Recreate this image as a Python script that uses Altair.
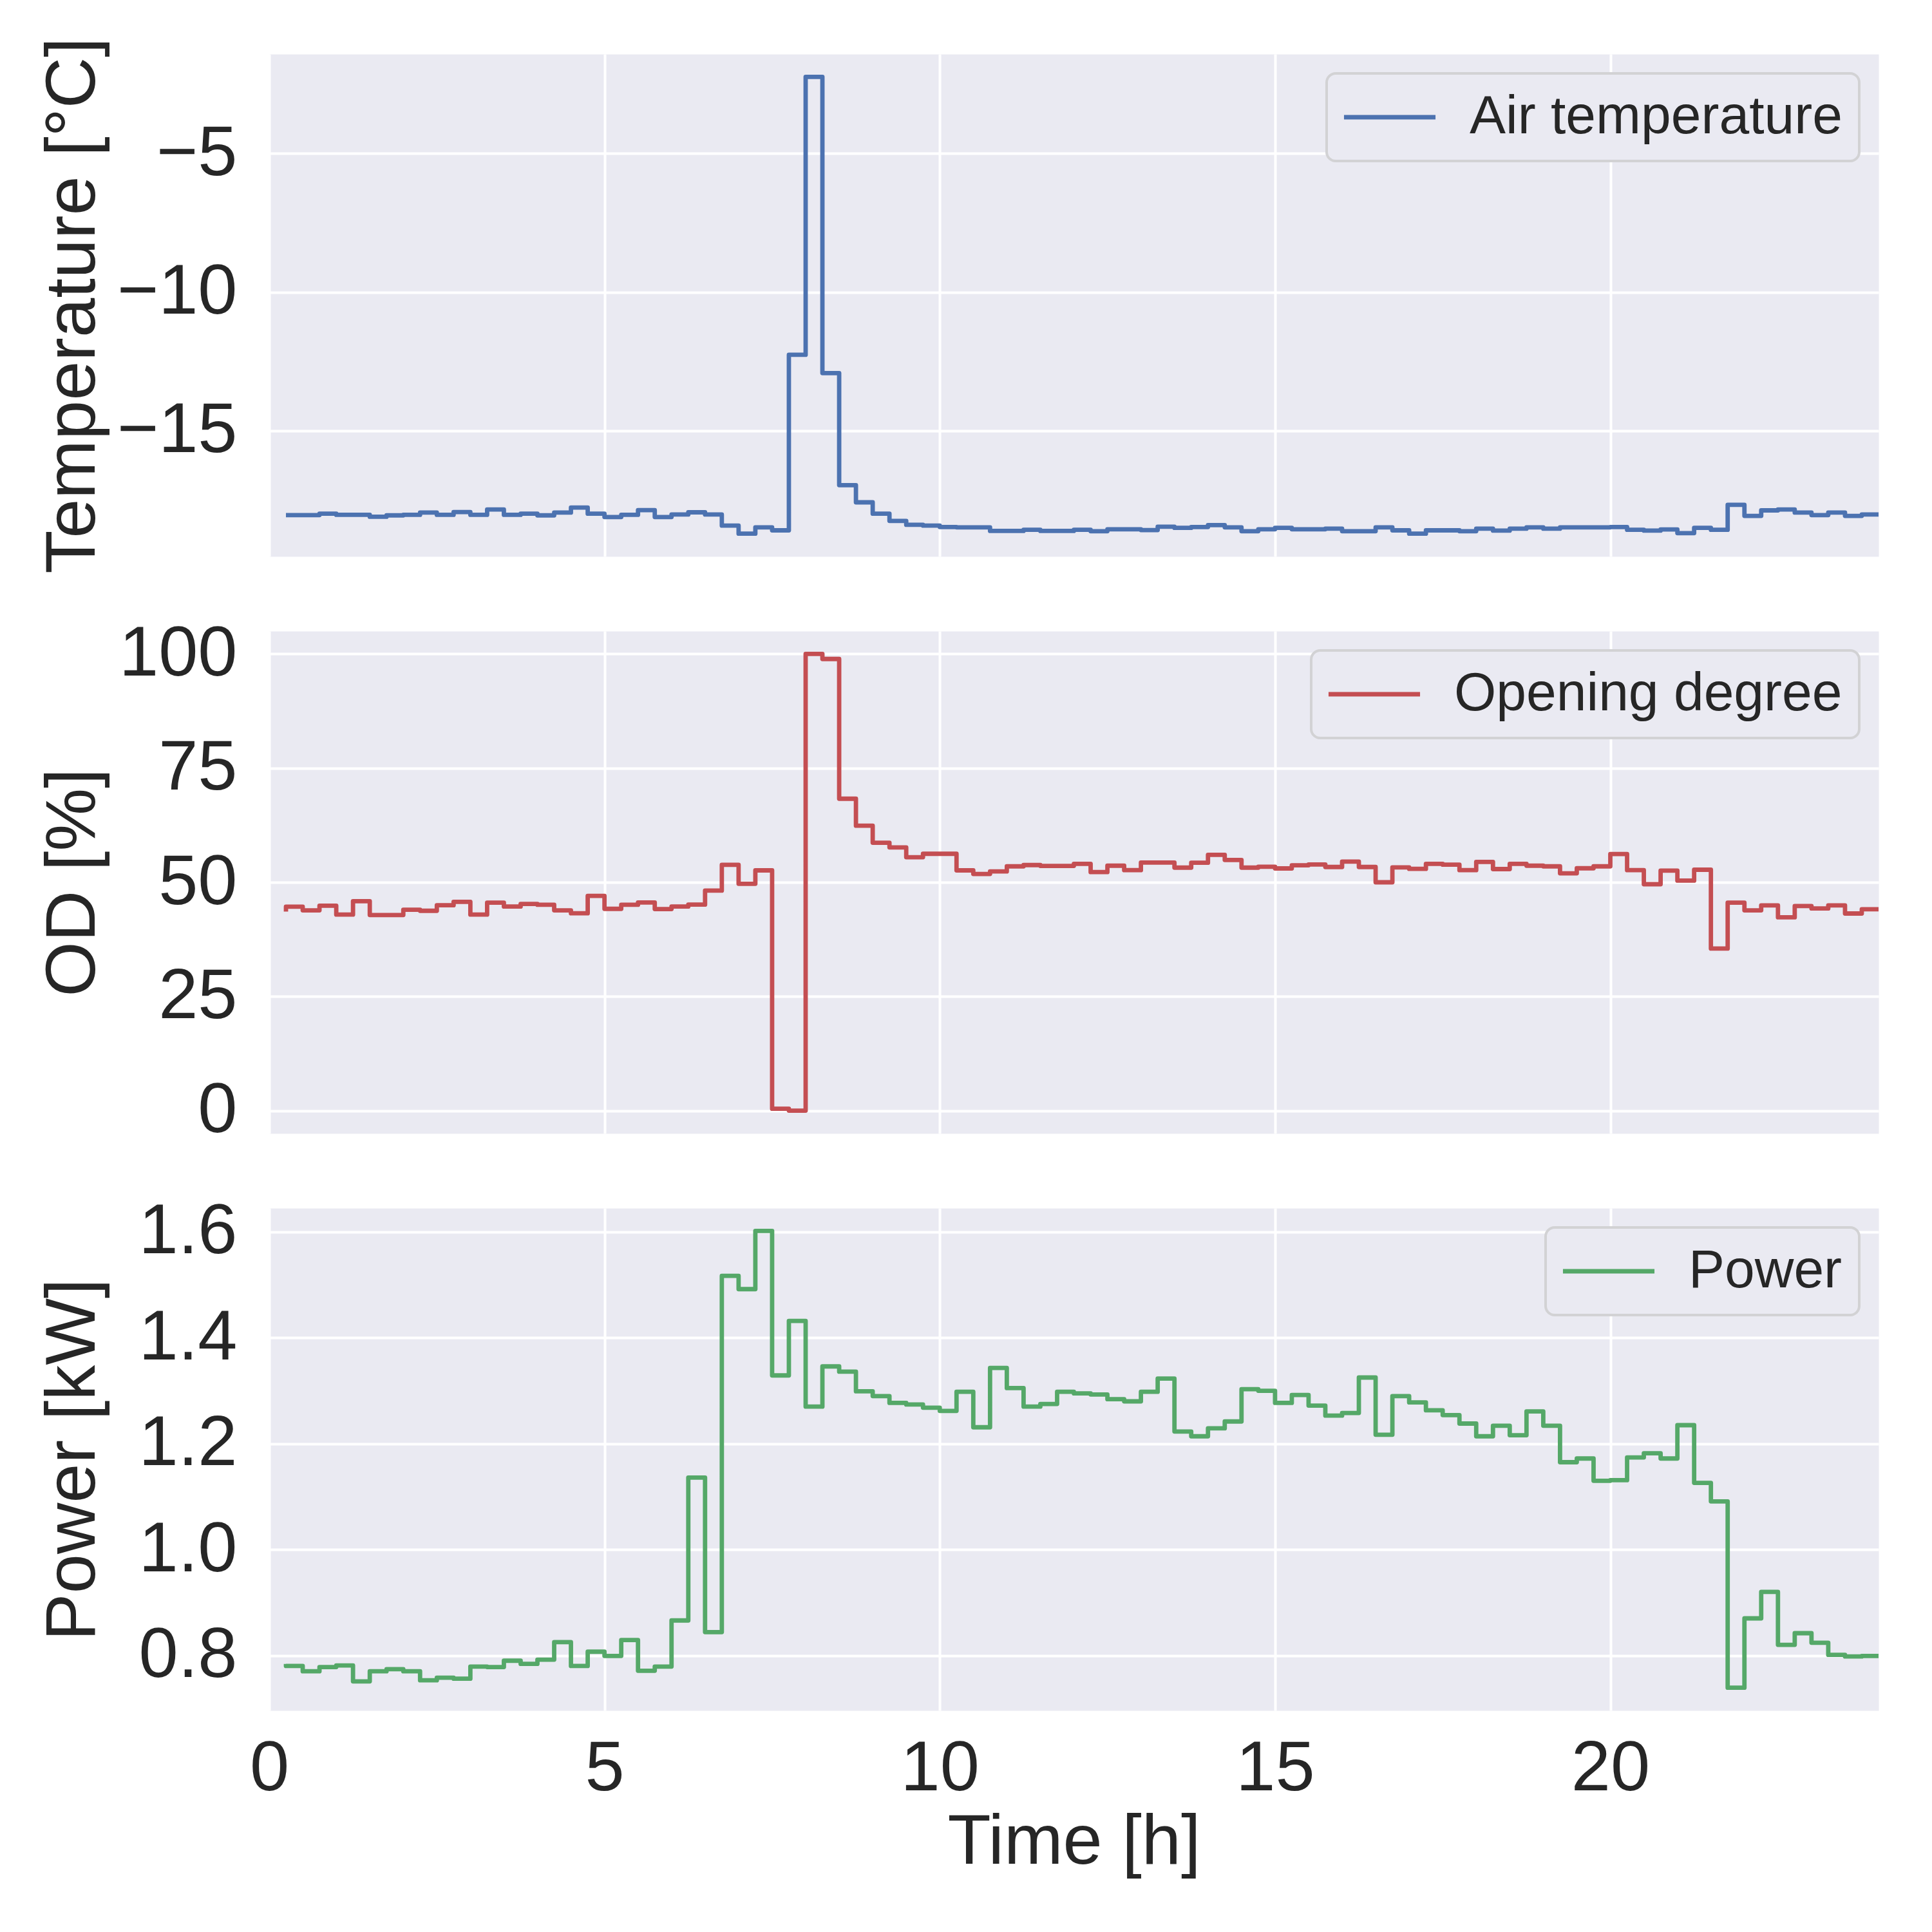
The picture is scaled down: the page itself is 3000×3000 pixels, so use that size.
import altair as alt
import pandas as pd

# time stamps (h), 15-minute samples
time_h = [0.25 * k for k in range(1, 97)]

air_temperature = [
    -18.04,
    -18.04, -18.04, -17.99,
    -18.03, -18.03, -18.10, -18.05,
    -18.03, -17.95, -18.03, -17.93,
    -18.03, -17.84, -18.03, -17.99,
    -18.05, -17.95, -17.77, -17.99,
    -18.11, -18.03, -17.86, -18.11,
    -18.02, -17.94, -18.02, -18.42,
    -18.71, -18.48, -18.59, -12.26,
    -2.24, -12.92, -16.96, -17.58,
    -17.99, -18.25, -18.39, -18.42,
    -18.47, -18.48, -18.48, -18.61,
    -18.61, -18.57, -18.61, -18.61,
    -18.57, -18.62, -18.55, -18.55,
    -18.58, -18.46, -18.50, -18.47,
    -18.40, -18.48, -18.62, -18.55,
    -18.50, -18.55, -18.55, -18.53,
    -18.62, -18.62, -18.48, -18.59,
    -18.71, -18.59, -18.59, -18.62,
    -18.53, -18.60, -18.53, -18.48,
    -18.53, -18.48, -18.48, -18.48,
    -18.47, -18.57, -18.60, -18.56,
    -18.69, -18.50, -18.57, -17.67,
    -18.07, -17.87, -17.84, -17.95,
    -18.04, -17.95, -18.07, -18.02,
]

opening_degree = [
    43.6,
    44.65, 43.85, 44.88,
    42.92, 45.86, 42.83, 42.83,
    43.99, 43.76, 44.97, 45.72,
    42.92, 45.53, 44.69, 45.25,
    45.07, 43.85, 43.20, 47.02,
    44.18, 45.07, 45.58, 44.13,
    44.69, 45.11, 48.18, 53.82,
    49.67, 52.61, 0.4, 0.0,
    100.0, 98.9, 68.30, 62.38,
    58.66, 57.64, 55.49, 56.24,
    56.24, 52.61, 51.82, 52.37,
    53.49, 53.77, 53.58, 53.58,
    54.05, 52.23, 53.63, 52.65,
    54.33, 54.33, 53.21, 54.28,
    56.01, 54.89, 53.21, 53.40,
    53.03, 53.72, 53.91, 53.35,
    54.52, 53.35, 50.0, 53.26,
    52.93, 54.05, 53.86, 52.65,
    54.47, 52.89, 54.05, 53.63,
    53.49, 51.96, 53.07, 53.49,
    56.19, 52.65, 49.58, 52.56,
    50.37, 52.75, 35.48, 45.53,
    43.85, 44.93, 42.32, 44.79,
    44.27, 44.93, 43.16, 44.09,
]

power_kw = [
    0.784,
    0.780, 0.770, 0.778,
    0.781, 0.751, 0.770, 0.774,
    0.770, 0.753, 0.758, 0.756,
    0.779, 0.778, 0.790, 0.784,
    0.792, 0.825, 0.780, 0.807,
    0.799, 0.829, 0.771, 0.779,
    0.866, 1.136, 0.844, 1.517,
    1.492, 1.602, 1.329, 1.432,
    1.270, 1.346, 1.336, 1.299,
    1.290, 1.277, 1.274, 1.268,
    1.262, 1.298, 1.231, 1.343,
    1.305, 1.270, 1.275, 1.298,
    1.295, 1.293, 1.284, 1.280,
    1.298, 1.323, 1.223, 1.214,
    1.229, 1.242, 1.303, 1.300,
    1.277, 1.292, 1.272, 1.253,
    1.258, 1.325, 1.217, 1.290,
    1.278, 1.263, 1.254, 1.238,
    1.214, 1.234, 1.216, 1.261,
    1.234, 1.165, 1.172, 1.130,
    1.131, 1.174, 1.182, 1.172,
    1.235, 1.126, 1.091, 0.739,
    0.870, 0.920, 0.820, 0.842,
    0.824, 0.801, 0.798, 0.799,
]

x_ticks = [0, 5, 10, 15, 20]
temp_ticks = [-15, -10, -5]
od_ticks = [0, 25, 50, 75, 100]
power_ticks = [0.8, 1.0, 1.2, 1.4, 1.6]

FONT = "Liberation Sans"
TXT = "#262626"
W, H = 2499, 780
LW = 6.8


def panel(values, name, color, ytitle, ydomain, yticks, yfmt, bottom):
    df = pd.DataFrame({"time": time_h, "value": values, "series": name})
    if bottom:
        xaxis = alt.Axis(values=x_ticks, title="Time [h]", labelPadding=36,
                         labelFlush=False, titleY=237, titleBaseline="alphabetic")
    else:
        xaxis = alt.Axis(values=x_ticks, labels=False, title="", labelFlush=False)
    yaxis = alt.Axis(values=yticks, format=yfmt, title=ytitle, labelPadding=50,
                     labelLimit=1000, titleLimit=3000,
                     titleX=-305, titleY=H / 2, titleAngle=270,
                     titleBaseline="middle", titleAlign="center")
    return alt.Chart(df).mark_line(
        interpolate="step-before", strokeWidth=LW, strokeJoin="round"
    ).encode(
        x=alt.X("time:Q", scale=alt.Scale(domain=[0, 24], nice=False, zero=False), axis=xaxis),
        y=alt.Y("value:Q", scale=alt.Scale(domain=ydomain, nice=False, zero=False), axis=yaxis),
        color=alt.Color("series:N", scale=alt.Scale(domain=[name], range=[color]),
                        legend=alt.Legend(title=None, orient="top-right")),
    ).properties(width=W, height=H)


p1 = panel(air_temperature, "Air temperature", "#4C72B0", "Temperature [°C]",
           [-19.53, -1.42], temp_ticks, "d", False)
p2 = panel(opening_degree, "Opening degree", "#C44E52", "OD [%]",
           [-5, 105], od_ticks, "d", False)
p3 = panel(power_kw, "Power", "#55A868", "Power [kW]",
           [0.696, 1.645], power_ticks, ".1f", True)

chart = alt.vconcat(p1, p2, p3, spacing=116, bounds="flush").resolve_scale(
    color="independent"
).properties(
    padding={"left": 49, "top": 49, "right": 20, "bottom": 20}
).configure_view(
    fill="#EAEAF2", stroke="transparent"
).configure_axis(
    gridColor="white", gridWidth=4, domain=False, ticks=False,
    labelFont=FONT, labelColor=TXT, labelFontSize=110,
    titleFont=FONT, titleColor=TXT, titleFontSize=110, titleFontWeight="normal",
).configure_legend(
    symbolType="M-2.22,0H2.22", symbolSize=4096, symbolStrokeWidth=LW,
    symbolOffset=30, labelOffset=82,
    labelFont=FONT, labelColor=TXT, labelFontSize=84, labelLimit=2000,
    padding=26, offset=30, fillColor="#EAEAF2", strokeColor="#D2D2D4",
    strokeWidth=4, cornerRadius=14,
)

chart.save("out.html", embed_options={"renderer": "svg", "actions": False})
